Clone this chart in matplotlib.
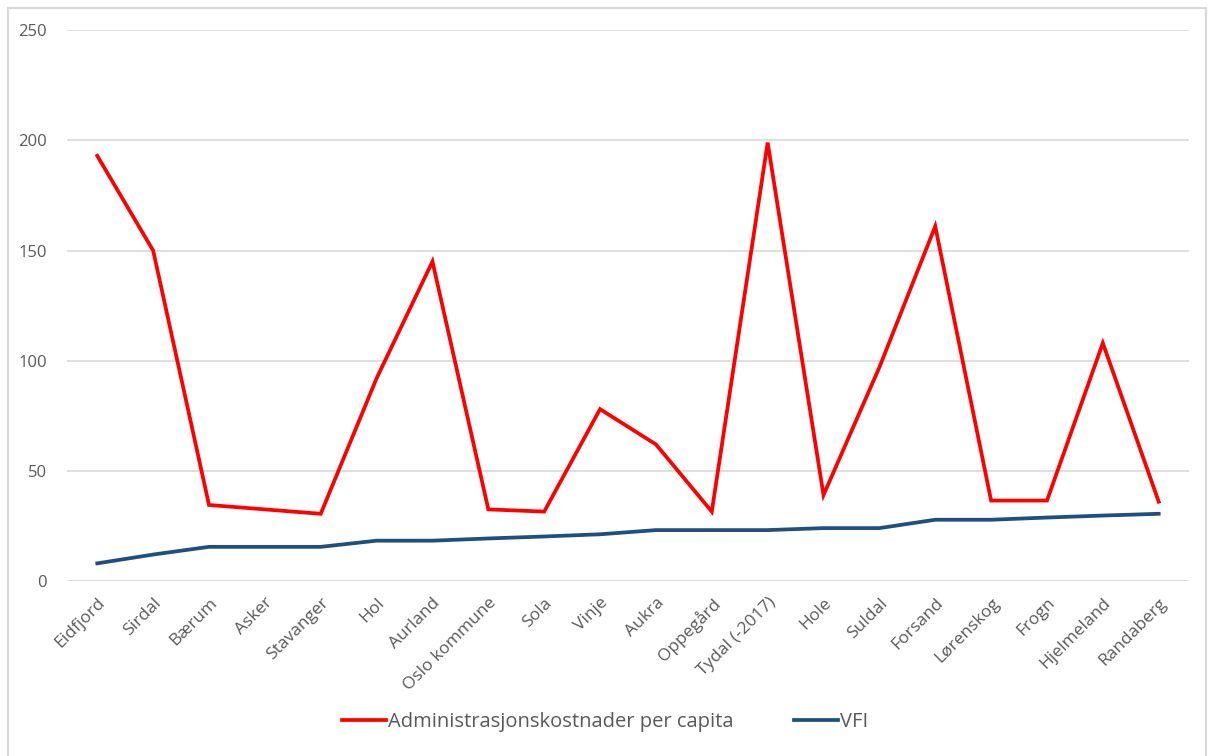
import matplotlib.pyplot as plt
from matplotlib.patches import Rectangle

kommuner = ["Eidfjord", "Sirdal", "Bærum", "Asker", "Stavanger", "Hol", "Aurland",
            "Oslo kommune", "Sola", "Vinje", "Aukra", "Oppegård", "Tydal (-2017)",
            "Hole", "Suldal", "Forsand", "Lørenskog", "Frogn", "Hjelmeland", "Randaberg"]
admin_kost = [193, 150, 34.5, 32.5, 30.5, 92, 145, 32.5, 31.5, 78, 62, 31.5, 199,
              39, 97, 161, 36.5, 36.5, 108, 36]
vfi = [8, 12, 15.5, 15.5, 15.5, 18.3, 18.3, 19.3, 20.2, 21.2, 23.1, 23.1, 23.1,
       24, 24, 27.8, 27.8, 28.8, 29.7, 30.5]
yticks = [0, 50, 100, 150, 200, 250]

plt.rcParams['font.family'] = ['Open Sans', 'DejaVu Sans']
txt = '#595959'

fig = plt.figure(figsize=(12.1, 7.56), dpi=100)
ax = fig.add_axes([0.055, 0.2315, 0.928, 0.7285])

# chart border
fig.patches.append(Rectangle((0.007, -0.05), 0.99, 1.04, transform=fig.transFigure,
                             fill=False, edgecolor='#d9d9d9', linewidth=1.5))

x = range(len(kommuner))
ax.plot(x, admin_kost, color='#ff0000', lw=2.7, label='Administrasjonskostnader per capita',
        solid_joinstyle='miter')
ax.plot(x, vfi, color='#1f4e80', lw=2.7, label='VFI')

ax.set_xlim(-0.55, len(kommuner) - 0.45)
ax.set_ylim(0, 250)
ax.set_yticks(yticks)
ax.set_xticks(list(x))
ax.set_xticklabels(kommuner, rotation=45, ha='right', rotation_mode='anchor')
ax.tick_params(axis='y', length=0, labelsize=12, labelcolor=txt, pad=14)
ax.tick_params(axis='x', length=0, labelsize=12.5, labelcolor=txt, pad=10)
ax.grid(axis='y', color='#d9d9d9', lw=1.2)
ax.set_axisbelow(True)
for s in ax.spines.values():
    s.set_visible(False)

fig.legend(loc='center', bbox_to_anchor=(0.5, 0.045), ncol=2, frameon=False,
           fontsize=14.5, labelcolor=txt, handlelength=2.2, handletextpad=0.1,
           columnspacing=3.0)

fig.savefig('out.png', dpi=100)
